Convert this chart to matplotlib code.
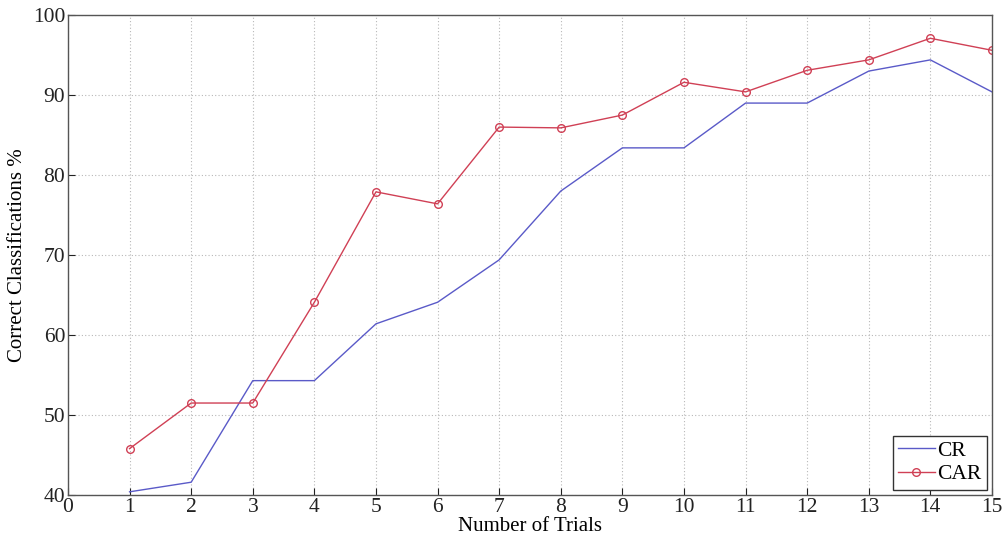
import matplotlib
matplotlib.use("Agg")
import matplotlib.pyplot as plt

trials = list(range(1, 16))
cr = [40.4, 41.6, 54.3, 54.3, 61.4, 64.1, 69.4, 78.0, 83.4, 83.4, 89.0, 89.0, 93.0, 94.4, 90.4]
car = [45.8, 51.5, 51.5, 64.1, 77.9, 76.4, 86.0, 85.9, 87.5, 91.6, 90.4, 93.1, 94.4, 97.1, 95.6]

plt.rcParams["font.family"] = ["Liberation Serif", "DejaVu Serif"]

fig = plt.figure(figsize=(10.04, 5.39), dpi=100)
ax = fig.add_axes([0.0677, 0.0816, 0.9203, 0.8904])

ax.plot(trials, cr, color="#5a5ac8", lw=1.0, label="CR")
ax.plot(trials, car, color="#d04055", lw=1.0, marker="o", ms=5.5,
        mfc="none", mec="#d04055", mew=1.0, label="CAR")

ax.set_xlim(0, 15)
ax.set_ylim(40, 100)
ax.set_xticks(range(0, 16))
ax.set_yticks(range(40, 101, 10))
ax.tick_params(direction="in", length=5, labelsize=15.5, colors="#222222", pad=2)
ax.grid(True, ls=(0, (1, 2)), color="#b8b8b8", lw=0.8)
for sp in ax.spines.values():
    sp.set_color("#555555")
    sp.set_linewidth(1.0)

ax.set_xlabel("Number of Trials", fontsize=15, labelpad=0)
ax.set_ylabel("Correct Classifications %", fontsize=15, labelpad=4)

leg = ax.legend(loc="lower right", fontsize=15.5, fancybox=False, framealpha=1,
                edgecolor="#333333", handlelength=1.7, borderpad=0.25,
                labelspacing=0.15, handletextpad=0.1, borderaxespad=0.25)
leg.get_frame().set_linewidth(1.0)

fig.savefig("out.png", dpi=100)
